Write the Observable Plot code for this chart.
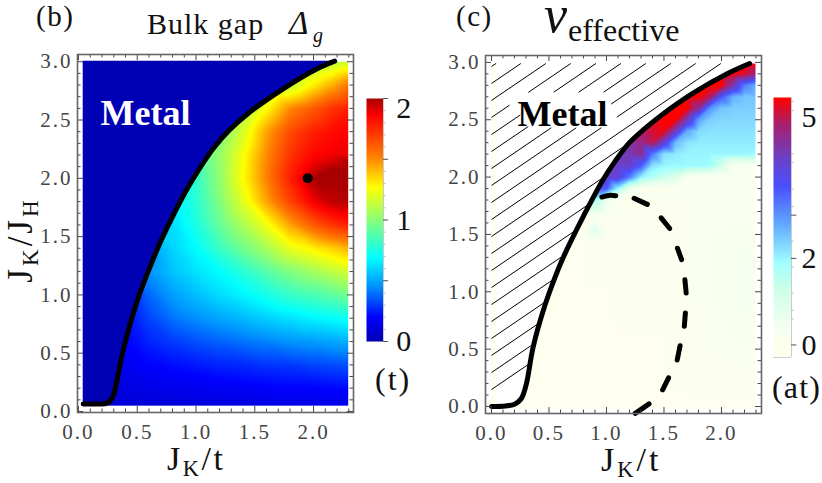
<!DOCTYPE html>
<html>
<head>
<meta charset="utf-8">
<script src="https://cdn.jsdelivr.net/npm/d3@7"></script>
<script src="https://cdn.jsdelivr.net/npm/@observablehq/plot@0.6"></script>
<style>
  html, body { margin: 0; padding: 0; background: #fff; overflow: hidden; }
  #page { position: relative; width: 822px; height: 483px; font-family: "Liberation Serif", serif; color: #111; }
  #page svg { position: absolute; overflow: visible; background: transparent; }
  #page svg g[aria-label$="tick label"] text { letter-spacing: 2px; }
  .t { position: absolute; white-space: nowrap; line-height: 1; }
  .t i { font-style: italic; }
  .sub { font-size: 66%; position: relative; top: 0.28em; }
</style>
</head>
<body>
<div id="page">
  <div class="t" style="left:36px;top:2px;font-size:29px;letter-spacing:1.5px">(b)</div>
  <div class="t" style="left:147px;top:9px;font-size:30px;letter-spacing:1px">Bulk gap</div>
  <div class="t" style="left:289px;top:7px;font-size:33px"><i>Δ</i></div>
  <div class="t" style="left:313px;top:25px;font-size:20px"><i>g</i></div>
  <div class="t" style="left:456px;top:2px;font-size:29px;letter-spacing:1.5px">(c)</div>
  <div class="t" style="left:544px;top:2px;font-size:52px;line-height:.5"><i>v</i></div>
  <div class="t" style="left:568px;top:14px;font-size:32px">effective</div>
  <div class="t" style="left:167px;top:445px;font-size:34px;line-height:.8;letter-spacing:2.5px">J<span class="sub">K</span>/t</div>
  <div class="t" style="left:601px;top:446px;font-size:34px;line-height:.8;letter-spacing:3px">J<span class="sub">K</span>/t</div>
  <div class="t" style="left:20px;top:240px;font-size:35px;letter-spacing:3px;transform:translate(-50%,-50%) rotate(-90deg)">J<span class="sub">K</span>/J<span class="sub">H</span></div>
  <div class="t" style="left:375px;top:363px;font-size:32px;letter-spacing:2px">(t)</div>
  <div class="t" style="left:772px;top:371px;font-size:32px;letter-spacing:1.2px">(at)</div>
</div>
<script>
// ticks
const majorX = [0, 0.5, 1, 1.5, 2];
const majorY = [0, 0.5, 1, 1.5, 2, 2.5, 3];
const minorX = [0.1, 0.2, 0.3, 0.4, 0.6, 0.7, 0.8, 0.9, 1.1, 1.2, 1.3, 1.4, 1.6, 1.7, 1.8, 1.9, 2.1, 2.2, 2.3];
const minorY = [0.1, 0.2, 0.3, 0.4, 0.6, 0.7, 0.8, 0.9, 1.1, 1.2, 1.3, 1.4, 1.6, 1.7, 1.8, 1.9, 2.1, 2.2, 2.3, 2.4, 2.6, 2.7, 2.8, 2.9];

// panel b, bulk gap
const gapX = [0, 0.2, 0.4, 0.6, 0.8, 1, 1.2, 1.4, 1.6, 1.8, 2, 2.15, 2.3];
const gapY = [3, 2.8, 2.6, 2.4, 2.2, 2.14, 2.08, 2, 1.8, 1.6, 1.4, 1.2, 1, 0.8, 0.6, 0.4, 0.2, 0.05];
const gapRows = [
  [.8, .85, .9, .95, 1, 1, 1, 1, 1.05, 1.05, 1.05, 1.1, 1.15],
  [.8, .85, .9, .95, 1, 1, 1, 1.05, 1.05, 1.12, 1.3, 1.42, 1.55],
  [.8, .85, .9, .95, 1, 1, 1, 1.05, 1.27, 1.5, 1.62, 1.72, 1.78],
  [.7, .75, .8, .85, .9, .92, .95, 1.18, 1.45, 1.66, 1.78, 1.83, 1.86],
  [.6, .65, .7, .75, .8, .88, 1.03, 1.25, 1.5, 1.72, 1.85, 1.88, 1.9],
  [.6, .65, .7, .75, .8, .86, 1.02, 1.26, 1.51, 1.74, 1.88, 1.92, 2],
  [.55, .6, .65, .7, .75, .84, 1.02, 1.26, 1.52, 1.76, 1.92, 2, 2],
  [.5, .55, .6, .65, .72, .8, 1.02, 1.27, 1.52, 1.78, 2, 2, 2],
  [.5, .55, .6, .62, .66, .78, .98, 1.2, 1.45, 1.68, 1.88, 1.96, 1.98],
  [.45, .5, .55, .58, .62, .75, .92, 1.08, 1.24, 1.45, 1.62, 1.72, 1.78],
  [.4, .42, .45, .47, .6, .69, .82, .95, 1.07, 1.22, 1.3, 1.36, 1.42],
  [.35, .38, .4, .46, .56, .63, .69, .78, .88, .98, 1.06, 1.12, 1.17],
  [.2, .22, .25, .38, .48, .55, .62, .67, .74, .81, .86, .9, .95],
  [.18, .2, .22, .32, .4, .45, .5, .54, .59, .63, .67, .69, .72],
  [.15, .17, .2, .26, .3, .34, .37, .4, .43, .46, .48, .5, .52],
  [.1, .12, .17, .2, .22, .24, .26, .27, .29, .3, .32, .33, .34],
  [.08, .1, .12, .14, .15, .16, .17, .18, .19, .2, .2, .21, .21],
  [.08, .08, .1, .1, .1, .11, .12, .12, .13, .13, .14, .14, .14]
];
const gapStops = [0, 0.2, 0.45, 0.69, 0.98, 1.27, 1.52, 1.86, 2];
const gapColors = ["#0000b4", "#0000ff", "#0090ff", "#00ffff", "#80ff80", "#ffff00", "#ff8000", "#ff0000", "#a80000"];
const boundaryB = [[0.04, 0.065], [0.15, 0.065], [0.24, 0.07], [0.29, 0.12], [0.315, 0.208], [0.386, 0.551], [0.5, 0.95], [0.585, 1.18], [0.7, 1.46], [0.8, 1.67], [0.925, 1.91], [1.04, 2.1], [1.15, 2.26], [1.28, 2.41], [1.435, 2.55], [1.745, 2.77], [2.03, 2.94], [2.18, 3.005]];

// panel c, effective velocity
const velX = [0, .1, .2, .3, .4, .5, .6, .7, .8, .9, 1, 1.1, 1.2, 1.3, 1.4, 1.5, 1.6, 1.7, 1.8, 1.9, 2, 2.1, 2.2, 2.3];
const velY = [3, 2.9, 2.8, 2.7, 2.6, 2.5, 2.4, 2.3, 2.2, 2.1, 2, 1.9, 1.8, 1.65, 1.55, 1.45, 1, 0.5, 0];
const velRows = [
  [0, 0, 0, 0, 0, 0, 0, 0, 0, 0, 0, 0, 0, 0, 0, 0, 0, 0, 0, 0, 5.7, 5.7, 5.7, 5.7],
  [0, 0, 0, 0, 0, 0, 0, 0, 0, 0, 0, 0, 0, 0, 0, 0, 0, 0, 5.7, 5.7, 5.7, 5.7, 5.5, 5],
  [0, 0, 0, 0, 0, 0, 0, 0, 0, 0, 0, 0, 0, 0, 0, 0, 5.7, 5.7, 5.7, 5.7, 5.7, 4.6, 3.2, 2.7],
  [0, 0, 0, 0, 0, 0, 0, 0, 0, 0, 0, 0, 0, 0, 0, 5.7, 5.7, 5.7, 5.7, 5.2, 3.6, 2.7, 2.5, 2.5],
  [0, 0, 0, 0, 0, 0, 0, 0, 0, 0, 0, 0, 0, 0, 5.7, 5.7, 5.7, 5.7, 4.8, 3, 2.5, 2.4, 2.4, 2.4],
  [0, 0, 0, 0, 0, 0, 0, 0, 0, 0, 0, 0, 0, 5.6, 5.6, 5.7, 5.7, 4.5, 2.9, 2.4, 2.3, 2.3, 2.3, 2.3],
  [0, 0, 0, 0, 0, 0, 0, 0, 0, 0, 0, 0, 5.2, 5.2, 5.4, 5.6, 4.4, 2.8, 2.3, 2.2, 2.2, 2.2, 2.2, 2.2],
  [0, 0, 0, 0, 0, 0, 0, 0, 0, 0, 0, 4.6, 4.6, 4.9, 5.3, 4.2, 2.6, 2.2, 2.1, 2.1, 2.1, 2.1, 2.1, 2.1],
  [0, 0, 0, 0, 0, 0, 0, 0, 0, 0, 4.3, 4.3, 4.5, 4.8, 3.2, 2.2, 2.1, 2, 2, 2, 2, 2, 2, 1.9],
  [0, 0, 0, 0, 0, 0, 0, 0, 0, 4.3, 4.3, 4.3, 4.3, 3.6, 2.2, 2, 1.95, 1.95, 1.95, 1.9, 1.2, .2, .15, .15],
  [0, 0, 0, 0, 0, 0, 0, 0, 4, 4, 4.2, 4.2, 3.2, 2.1, 1.7, 1.3, 1, .2, .1, .1, .1, .1, .1, .1],
  [0, 0, 0, 0, 0, 0, 0, 3.6, 3.6, 3.6, 3.6, 2, .6, .1, .1, .1, .1, .1, .1, .1, .1, .1, .1, .1],
  [0, 0, 0, 0, 0, 0, 0, 0, 1.8, 1.8, .5, .1, .1, .1, .1, .1, .1, .1, .1, .1, .1, .1, .1, .1],
  [0, 0, 0, 0, 0, 0, 0, 0, 0, .1, .05, .05, .05, .05, .05, .05, .05, .1, .1, .1, .1, .15, .15, .15],
  [0, 0, 0, 0, 0, 0, 0, 0, 0, 1, .05, .05, .05, .05, .05, .05, .05, .1, .1, .15, .15, .2, .2, .2],
  [0, 0, 0, 0, 0, 0, 0, 0, 0, .1, .05, .05, .05, .05, .05, .05, .05, .1, .1, .15, .2, .2, .25, .25],
  [0, 0, 0, 0, 0, 0, 0, 0, 0, 0, 0, .05, .05, .05, .05, .05, .05, .1, .1, .15, .2, .25, .3, .3],
  [0, 0, 0, 0, 0, 0, 0, 0, 0, 0, 0, 0, 0, 0, 0, 0, .05, .05, .1, .1, .1, .15, .15, .15],
  [0, 0, 0, 0, 0, 0, 0, 0, 0, 0, 0, 0, 0, 0, 0, 0, 0, 0, 0, 0, 0, 0, 0, 0]
];
const velStops = [0, 0.5, 1.25, 1.9, 2.8, 3.65, 4.3, 5.1, 5.7];
const velColors = ["#feffee", "#f0fff0", "#d0ffe8", "#a0ffff", "#60a8ff", "#4a50ff", "#6a40c8", "#a8206f", "#ff0000"];
const boundaryC = [[0, 0], [0.12, 0.005], [0.2, 0.02], [0.26, 0.07], [0.304, 0.2], [0.362, 0.517], [0.464, 0.88], [0.55, 1.12], [0.62, 1.29], [0.7, 1.46], [0.8, 1.66], [0.96, 1.96], [1.07, 2.13], [1.19, 2.29], [1.33, 2.42], [1.478, 2.54], [1.767, 2.74], [2.058, 2.905], [2.245, 2.99]];
// the dashed line, one short piece per dash as seen in the picture
const dashes = [
  [[0.96, 1.826], [1.02, 1.84], [1.08, 1.838]],
  [[1.24, 1.815], [1.355, 1.762]],
  [[1.475, 1.645], [1.55, 1.552]],
  [[1.617, 1.38], [1.653, 1.28]],
  [[1.682, 1.105], [1.693, 0.99]],
  [[1.686, 0.815], [1.677, 0.7]],
  [[1.64, 0.53], [1.615, 0.406]],
  [[1.54, 0.25], [1.488, 0.145]],
  [[1.37, 0.023], [1.25, -0.06]]
];

// hatch segments over the metal region: left end x, right end x, line height at x=0
const hatchX1 = [0, 0, 0, 0, 0.32, 0, 0.541, 0, 0.757, 0, 0.975, 0, 1.04, 0, 1.09, 0, 0, 0, 0, 0, 0, 0, 0, 0, 0, 0];
const hatchX2 = [0.04, 0.255, 0.472, 0.157, 0.689, 0.25, 0.908, 0.32, 1.125, 0.52, 1.342, 0.737, 1.559, 0.955, 1.776, 1.994, 1.19, 0.957, 0.85, 0.745, 0.64, 0.54, 0.47, 0.415, 0.375, 0.335];
const hatchY0 = [2.964, 2.816, 2.668, 2.52, 2.52, 2.371, 2.371, 2.223, 2.223, 2.075, 2.075, 1.927, 1.927, 1.779, 1.779, 1.63, 1.482, 1.334, 1.186, 1.037, 0.889, 0.741, 0.593, 0.445, 0.296, 0.148];
const hatchSlope = 0.682;

const serif = "Liberation Serif";
const page = document.getElementById("page");
const toCells = (xs, ys, rows) => ys.flatMap((y, i) => xs.map((x, j) => ({x, y, v: rows[i][j]})));
const toPoints = a => a.map(([x, y]) => ({x, y}));

// inner ticks on all four sides of a frame
function frameTicks(xd, yd) {
  const out = [];
  for (const [t, len] of [[majorX, 0.052], [minorX, 0.03]]) {
    out.push(Plot.ruleX(t, {y1: yd[0], y2: yd[0] + len, stroke: "#444", strokeWidth: 1}));
    out.push(Plot.ruleX(t, {y1: yd[1], y2: yd[1] - len, stroke: "#444", strokeWidth: 1}));
  }
  for (const [t, len] of [[majorY, 0.052], [minorY, 0.03]]) {
    out.push(Plot.ruleY(t, {x1: xd[0], x2: xd[0] + len, stroke: "#444", strokeWidth: 1}));
    out.push(Plot.ruleY(t, {x1: xd[1], x2: xd[1] - len, stroke: "#444", strokeWidth: 1}));
  }
  return out;
}
const tickText = {fontFamily: serif, fontSize: 21, fill: "#444", tickSize: 0, label: null, tickFormat: ".1f"};

function place(svg, left, top) {
  svg.style.left = left + "px";
  svg.style.top = top + "px";
  page.append(svg);
}

// panel b
const bx = [-0.0085, 2.34], by = [-0.0086, 3.062];
const panelB = Plot.plot({
  width: 360, height: 483, marginLeft: 77, marginRight: 7, marginTop: 54, marginBottom: 71,
  style: {background: "transparent"},
  x: {domain: bx}, y: {domain: by},
  color: {type: "linear", domain: gapStops, range: gapColors, clamp: true},
  marks: [
    Plot.raster(toCells(gapX, gapY, gapRows), {x: "x", y: "y", fill: "v", x1: 0.04, x2: 2.295, y1: 0.05, y2: 3, interpolate: "barycentric"}),
    Plot.areaX(toPoints(boundaryB), {x1: () => 0.04, x2: "x", y: "y", fill: "#0000b4", curve: "catmull-rom"}),
    Plot.line(toPoints(boundaryB), {x: "x", y: "y", stroke: "black", strokeWidth: 5, strokeLinecap: "round", curve: "catmull-rom"}),
    Plot.dot([{x: 1.95, y: 2}], {x: "x", y: "y", r: 5, fill: "black"}),
    Plot.text(["Metal"], {x: () => 0.57, y: () => 2.56, fontFamily: serif, fontWeight: "bold", fontSize: 36, fill: "white"}),
    ...frameTicks(bx, by),
    Plot.frame({stroke: "#666", strokeWidth: 1.6}),
    Plot.axisX(majorX, {...tickText, tickPadding: 12}),
    Plot.axisY(majorY, {...tickText, tickPadding: 5})
  ]
});
place(panelB, 0, 0);

// panel c
const cx = [-0.052, 2.348], cy = [-0.061, 3.06];
const hatchSegs = hatchY0.map((y0, i) => ({x1: hatchX1[i], x2: hatchX2[i], y1: y0 + hatchSlope * hatchX1[i], y2: y0 + hatchSlope * hatchX2[i]}));
const dashPoints = dashes.flatMap((d, k) => d.map(([x, y]) => ({x, y, k})));
const panelC = Plot.plot({
  width: 370, height: 483, marginLeft: 85, marginRight: 9, marginTop: 55, marginBottom: 70,
  style: {background: "transparent"},
  x: {domain: cx}, y: {domain: cy},
  color: {type: "linear", domain: velStops, range: velColors, clamp: true},
  marks: [
    Plot.raster(toCells(velX, velY, velRows), {x: "x", y: "y", fill: "v", x1: 0, x2: 2.296, y1: -0.02, y2: 2.99, interpolate: "barycentric"}),
    Plot.areaX(toPoints(boundaryC), {x1: () => 0.05, x2: "x", y: "y", fill: "white", curve: "catmull-rom"}),
    Plot.link(hatchSegs, {x1: "x1", x2: "x2", y1: "y1", y2: "y2", stroke: "black", strokeWidth: 1}),
    Plot.line(toPoints(boundaryC), {x: "x", y: "y", stroke: "black", strokeWidth: 5, strokeLinecap: "round", curve: "catmull-rom"}),
    Plot.line(dashPoints, {x: "x", y: "y", z: "k", stroke: "black", strokeWidth: 5, strokeLinecap: "round", curve: "catmull-rom"}),
    Plot.text(["Metal"], {x: () => 0.617, y: () => 2.55, fontFamily: serif, fontWeight: "bold", fontSize: 36, fill: "black"}),
    ...frameTicks(cx, cy),
    Plot.frame({stroke: "#666", strokeWidth: 1.6}),
    Plot.axisX(majorX, {...tickText, tickPadding: 12}),
    Plot.axisY(majorY, {...tickText, tickPadding: 5})
  ]
});
place(panelC, 400, 0);

// colour bars
const barTickB = [0, .1, .2, .3, .4, .5, .6, .7, .8, .9, 1, 1.1, 1.2, 1.3, 1.4, 1.5, 1.6, 1.7, 1.8, 1.9, 2];
const barMajorB = [0, .5, 1, 1.5, 2];
const barLabelB = [["0", 0], ["1", 1], ["2", 1.92]];
const barB = Plot.plot({
  width: 56, height: 243, marginLeft: 0, marginRight: 39, marginTop: 0, marginBottom: 0,
  style: {background: "transparent"},
  x: {domain: [0, 1], axis: null}, y: {domain: [0, 2], axis: null},
  color: {type: "linear", domain: gapStops, range: gapColors, clamp: true},
  marks: [
    Plot.raster({fill: (x, y) => y, x1: 0, x2: 1, y1: 0, y2: 2}),
    Plot.ruleX([1], {stroke: "#ccc"}),
    Plot.ruleY(barTickB, {x1: 1, x2: 1.15, stroke: "#bbb"}),
    Plot.ruleY(barMajorB, {x1: 1, x2: 1.3, stroke: "#555"}),
    Plot.text(barLabelB, {x: () => 1.75, y: d => d[1], text: d => d[0], textAnchor: "start", fontFamily: serif, fontSize: 30, fill: "#111"})
  ]
});
place(barB, 366, 98);

const barTickC = [5.63, 5.42, 4.42, 4.22, 3.6, 3.2, 2.4, 1.8, 1.2, 0.8, 0.6];
const barMajorC = [3, 2, 0];
const barLabelC = [["5", 5.25], ["2", 2], ["0", 0]];
const barC = Plot.plot({
  width: 56, height: 260, marginLeft: 0, marginRight: 38, marginTop: 0, marginBottom: 0,
  style: {background: "transparent"},
  x: {domain: [0, 1], axis: null}, y: {domain: [-0.29, 5.72], axis: null},
  color: {type: "linear", domain: velStops, range: velColors, clamp: true},
  marks: [
    Plot.raster({fill: (x, y) => y, x1: 0, x2: 1, y1: -0.29, y2: 5.72}),
    Plot.ruleX([1], {stroke: "#ccc"}),
    Plot.ruleY([-0.29], {stroke: "#ccc"}),
    Plot.ruleY(barTickC, {x1: 1, x2: 1.15, stroke: "#bbb"}),
    Plot.ruleY(barMajorC, {x1: 1, x2: 1.3, stroke: "#555"}),
    Plot.text(barLabelC, {x: () => 1.55, y: d => d[1], text: d => d[0], textAnchor: "start", fontFamily: serif, fontSize: 30, fill: "#111"})
  ]
});
place(barC, 773, 97);
</script>
</body>
</html>
